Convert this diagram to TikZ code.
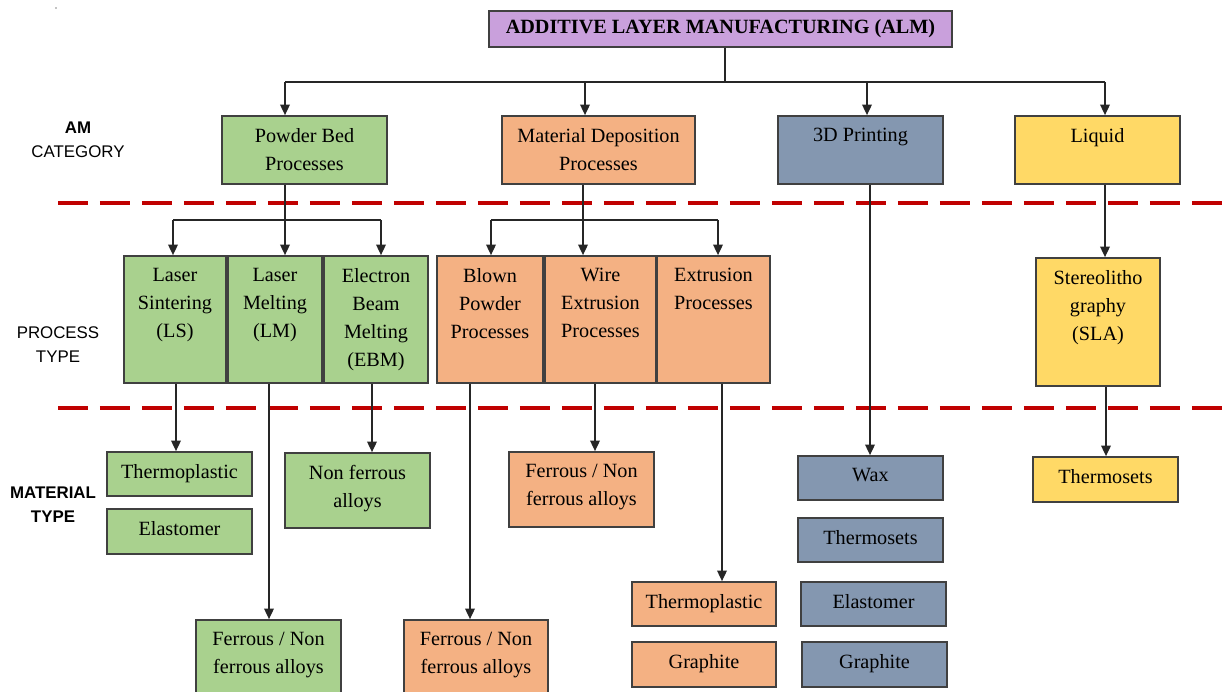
\documentclass[tikz,border=0pt]{standalone}
\usepackage{fontspec}
\setmainfont{Liberation Serif}
\setsansfont{Liberation Sans}
\usetikzlibrary{arrows.meta, fit}
\definecolor{almtop}  {HTML}{C9A0DC}
\definecolor{powder}  {HTML}{A9D18E}
\definecolor{deposit} {HTML}{F4B183}
\definecolor{printing}{HTML}{8497B0}
\definecolor{liquid}  {HTML}{FFD966}
\definecolor{edge}    {HTML}{404040}
\definecolor{divider} {HTML}{C00000}

\tikzset{
  box/.style={draw=edge, line width=1pt, inner sep=0pt},
  boxtext/.style={anchor=north, align=center, inner xsep=0pt, inner ysep=7.3pt,
    font=\fontsize{11.5}{15.9}\selectfont},
  link/.style={draw=black!85, line width=0.8pt},
  arr/.style={link, -{Triangle[length=6pt, width=5.5pt]}},
  rowlabel/.style={font=\sffamily\fontsize{9.6}{13.6}\selectfont, align=center},
  divline/.style={draw=divider, line width=2.3pt, dash pattern=on 0.6cm off 0.24cm}
}

\begin{document}
\begin{tikzpicture}[x=0.02cm, y=-0.02cm]
  \useasboundingbox (0,0) rectangle (1227,692);
  \fill (56,8) circle (0.6);

  % row labels and dividers
  \node[rowlabel] (lcat)  at (78,140) {\textbf{AM}\\CATEGORY};
  \node[rowlabel] (lproc) at (58,345) {PROCESS\\TYPE};
  \node[rowlabel, font=\sffamily\bfseries\fontsize{9.6}{13.6}\selectfont] (lmat) at (53,505) {MATERIAL\\TYPE};
  \draw[divline] (58,203) -- (1223,203);
  \draw[divline] (58,408) -- (1223,408);

  % top
  \node[box, fill=almtop, fit={(489,11) (952,47)},
    label={[font=\bfseries\fontsize{11.5}{14}\selectfont]center:ADDITIVE LAYER MANUFACTURING (ALM)}] (alm) {};

  % AM categories
  \node[box, fill=powder,   fit={(222,116) (387,184)}, label={[boxtext]north:{Powder Bed\\Processes}}] (pbed) {};
  \node[box, fill=deposit,  fit={(502,116) (695,184)}, label={[boxtext]north:{Material Deposition\\Processes}}] (mdep) {};
  \node[box, fill=printing, fit={(778,116) (943,184)}, label={[boxtext]north:{3D Printing}}] (print) {};
  \node[box, fill=liquid,   fit={(1015,116) (1180,184)}, label={[boxtext]north:{Liquid}}] (liq) {};

  % process types
  \node[box, fill=powder,  fit={(124,256) (226,383)}, label={[boxtext]north:{Laser\\Sintering\\(LS)}}] (ls) {};
  \node[box, fill=powder,  fit={(228,256) (322,383)}, label={[boxtext]north:{Laser\\Melting\\(LM)}}] (lm) {};
  \node[box, fill=powder,  fit={(324,256) (428,383)}, label={[boxtext]north:{Electron\\Beam\\Melting\\(EBM)}}] (ebm) {};
  \node[box, fill=deposit, fit={(437,256) (543,383)}, label={[boxtext]north:{Blown\\Powder\\Processes}}] (blown) {};
  \node[box, fill=deposit, fit={(545,256) (656,383)}, label={[boxtext]north:{Wire\\Extrusion\\Processes}}] (wire) {};
  \node[box, fill=deposit, fit={(657,256) (770,383)}, label={[boxtext]north:{Extrusion\\Processes}}] (extr) {};
  \node[box, fill=liquid,  fit={(1036,258) (1160,386)}, label={[boxtext]north:{Stereolitho\\graphy\\(SLA)}}] (sla) {};

  % material types
  \node[box, fill=powder,   fit={(107,452) (252,496)}, label={[boxtext]north:{Thermoplastic}}] (lsplast) {};
  \node[box, fill=powder,   fit={(107,509) (252,554)}, label={[boxtext]north:{Elastomer}}] (lselast) {};
  \node[box, fill=powder,   fit={(196,620) (341,697)}, label={[boxtext]north:{Ferrous / Non\\ferrous alloys}}] (lmferr) {};
  \node[box, fill=powder,   fit={(285,453) (430,528)}, label={[boxtext]north:{Non ferrous\\alloys}}] (ebmnonf) {};
  \node[box, fill=deposit,  fit={(404,620) (548,697)}, label={[boxtext]north:{Ferrous / Non\\ferrous alloys}}] (blferr) {};
  \node[box, fill=deposit,  fit={(509,452) (654,527)}, label={[boxtext]north:{Ferrous / Non\\ferrous alloys}}] (wiferr) {};
  \node[box, fill=deposit,  fit={(632,582) (776,626)}, label={[boxtext]north:{Thermoplastic}}] (explast) {};
  \node[box, fill=deposit,  fit={(632,642) (776,687)}, label={[boxtext]north:{Graphite}}] (exgraph) {};
  \node[box, fill=printing, fit={(798,456) (943,500)}, label={[boxtext]north:{Wax}}] (wax) {};
  \node[box, fill=printing, fit={(798,518) (943,562)}, label={[boxtext]north:{Thermosets}}] (prset) {};
  \node[box, fill=printing, fit={(801,582) (946,626)}, label={[boxtext]north:{Elastomer}}] (prelast) {};
  \node[box, fill=printing, fit={(802,642) (947,687)}, label={[boxtext]north:{Graphite}}] (prgraph) {};
  \node[box, fill=liquid,   fit={(1033,457) (1178,502)}, label={[boxtext]north:{Thermosets}}] (slaset) {};

  % top to categories
  \coordinate (hub) at (725,82);
  \coordinate (busl) at (285,82);
  \coordinate (busr) at (1105,82);
  \draw[link] (alm.south -| hub) -- (hub);
  \draw[link] (busl) -- (busr);
  \foreach \x/\n in {285/pbed, 585/mdep, 867/print, 1105/liq}
    {\coordinate (c) at (\x,82);
     \draw[arr] (c) -- (c |- \n.north);}

  % categories to processes
  \coordinate (pbj) at (285,220);
  \coordinate (mdj) at (583,220);
  \draw[link] (pbed.south -| pbj) -- (pbj);
  \draw[link] (mdep.south -| mdj) -- (mdj);
  \coordinate (pbl) at (173,220);
  \coordinate (pbr) at (381,220);
  \coordinate (mdl) at (491,220);
  \coordinate (mdr) at (718,220);
  \draw[link] (pbl) -- (pbr);
  \draw[link] (mdl) -- (mdr);
  \draw[arr] (pbl) -- (pbl |- ls.north);
  \draw[arr] (pbj) -- (pbj |- lm.north);
  \draw[arr] (pbr) -- (pbr |- ebm.north);
  \draw[arr] (mdl) -- (mdl |- blown.north);
  \draw[arr] (mdj) -- (mdj |- wire.north);
  \draw[arr] (mdr) -- (mdr |- extr.north);
  \coordinate (lqx) at (1105,0);
  \draw[arr] (liq.south -| lqx) -- (sla.north -| lqx);

  % processes to materials
  \foreach \x/\a/\b in {176/ls/lsplast, 269/lm/lmferr, 372/ebm/ebmnonf, 470/blown/blferr,
                        595/wire/wiferr, 722/extr/explast, 870/print/wax, 1106/sla/slaset}
    {\coordinate (c) at (\x,0);
     \draw[arr] (\a.south -| c) -- (\b.north -| c);}
\end{tikzpicture}
\end{document}
